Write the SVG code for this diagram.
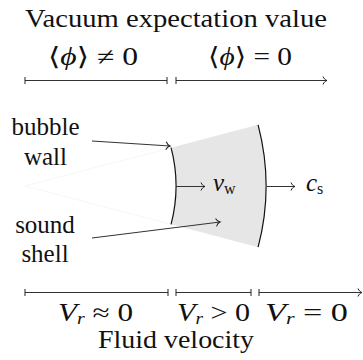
<svg xmlns="http://www.w3.org/2000/svg" width="363" height="360" viewBox="0 0 363 360">
<defs>
<style>
text{font-size:25px;fill:#111;font-family:"Liberation Serif",Tinos,"Noto Serif","DejaVu Serif",FreeSerif,"Nimbus Roman","Times New Roman",Times,Georgia,serif}
.m{text-anchor:middle}
.i{font-style:italic}
.sub{font-size:16px}
.ln{stroke:#333;stroke-width:1;fill:none}
.arc{stroke:#111;stroke-width:1.2;fill:none}
</style>
<marker id="to" markerUnits="userSpaceOnUse" markerWidth="12" markerHeight="12" viewBox="-6 -6 12 12" refX="0" refY="0" orient="auto" overflow="visible">
<path d="M-4,-4 C-3,-1.6 -1.6,-0.5 0,0 C-1.6,0.5 -3,1.6 -4,4" fill="none" stroke="#222" stroke-width="1"/>
</marker>
<marker id="bar" markerUnits="userSpaceOnUse" markerWidth="4" markerHeight="10" viewBox="-2 -5 4 10" refX="0" refY="0" orient="auto" overflow="visible">
<path d="M0,-3.5 L0,3.5" stroke="#222" stroke-width="1"/>
</marker>
</defs>

<g id="region">
<path d="M171.06,147.68 L258.1,124.8 A241,241 0 0 1 258.1,247.2 L171.06,224.32 A151,151 0 0 0 171.06,147.68 Z" fill="#e6e6e6"/>
<path d="M25,186 L171.06,147.68 M25,186 L171.06,224.32" stroke="#f0f0f0" stroke-width="0.6" fill="none"/>
</g>
<g id="bubble-wall-arc">
<path class="arc" d="M171.06,147.68 A151,151 0 0 1 171.06,224.32"/>
</g>
<g id="sound-shell-arc">
<path class="arc" d="M258.1,124.8 A241,241 0 0 1 258.1,247.2"/>
</g>

<g id="connectors">
<path class="ln" d="M25,80.5 L167,80.5" marker-start="url(#bar)" marker-end="url(#bar)"/>
<path class="ln" d="M176,80.5 L327,80.5" marker-start="url(#bar)" marker-end="url(#to)"/>
<path class="ln" d="M25,292.5 L168,292.5" marker-start="url(#bar)" marker-end="url(#bar)"/>
<path class="ln" d="M176,292.5 L251,292.5" marker-start="url(#bar)" marker-end="url(#bar)"/>
<path class="ln" d="M259,292.5 L362,292.5" marker-start="url(#bar)" marker-end="url(#to)"/>
<path class="ln" d="M92,141 L170,146" marker-end="url(#to)"/>
<path class="ln" d="M92,238 L220,222" marker-end="url(#to)"/>
<path class="ln" d="M176,186.5 L205,186.5" marker-end="url(#to)"/>
<path class="ln" d="M267,186.5 L295,186.5" marker-end="url(#to)"/>
</g>

<g id="title-top"><text class="m" x="176" y="27" textLength="302" lengthAdjust="spacingAndGlyphs">Vacuum expectation value</text></g>
<g id="vev-nonzero"><text class="m" x="93" y="65" textLength="90" lengthAdjust="spacingAndGlyphs">⟨<tspan class="i">ϕ</tspan>⟩ ≠ 0</text></g>
<g id="vev-zero"><text class="m" x="250" y="65" textLength="84" lengthAdjust="spacingAndGlyphs">⟨<tspan class="i">ϕ</tspan>⟩ = 0</text></g>

<g id="bubble-wall-label">
<text class="m" x="45.5" y="135">bubble</text>
<text class="m" x="45.5" y="165">wall</text>
</g>
<g id="sound-shell-label">
<text class="m" x="45" y="233">sound</text>
<text class="m" x="45" y="262">shell</text>
</g>
<g id="vw-label"><text x="213" y="191"><tspan class="i">v</tspan><tspan class="sub" dy="3">w</tspan></text></g>
<g id="cs-label"><text x="306" y="191"><tspan class="i">c</tspan><tspan class="sub" dy="3">s</tspan></text></g>

<g id="vr-approx"><text x="58" y="321" textLength="75" lengthAdjust="spacingAndGlyphs"><tspan class="i">V</tspan><tspan class="sub i" dy="3">r</tspan><tspan dy="-3"> ≈ 0</tspan></text></g>
<g id="vr-positive"><text x="177" y="321" textLength="73" lengthAdjust="spacingAndGlyphs"><tspan class="i">V</tspan><tspan class="sub i" dy="3">r</tspan><tspan dy="-3"> &gt; 0</tspan></text></g>
<g id="vr-zero"><text x="265" y="321" textLength="83" lengthAdjust="spacingAndGlyphs"><tspan class="i">V</tspan><tspan class="sub i" dy="3">r</tspan><tspan dy="-3"> = 0</tspan></text></g>
<g id="title-bottom"><text class="m" x="176" y="348" textLength="156" lengthAdjust="spacingAndGlyphs">Fluid velocity</text></g>
</svg>
